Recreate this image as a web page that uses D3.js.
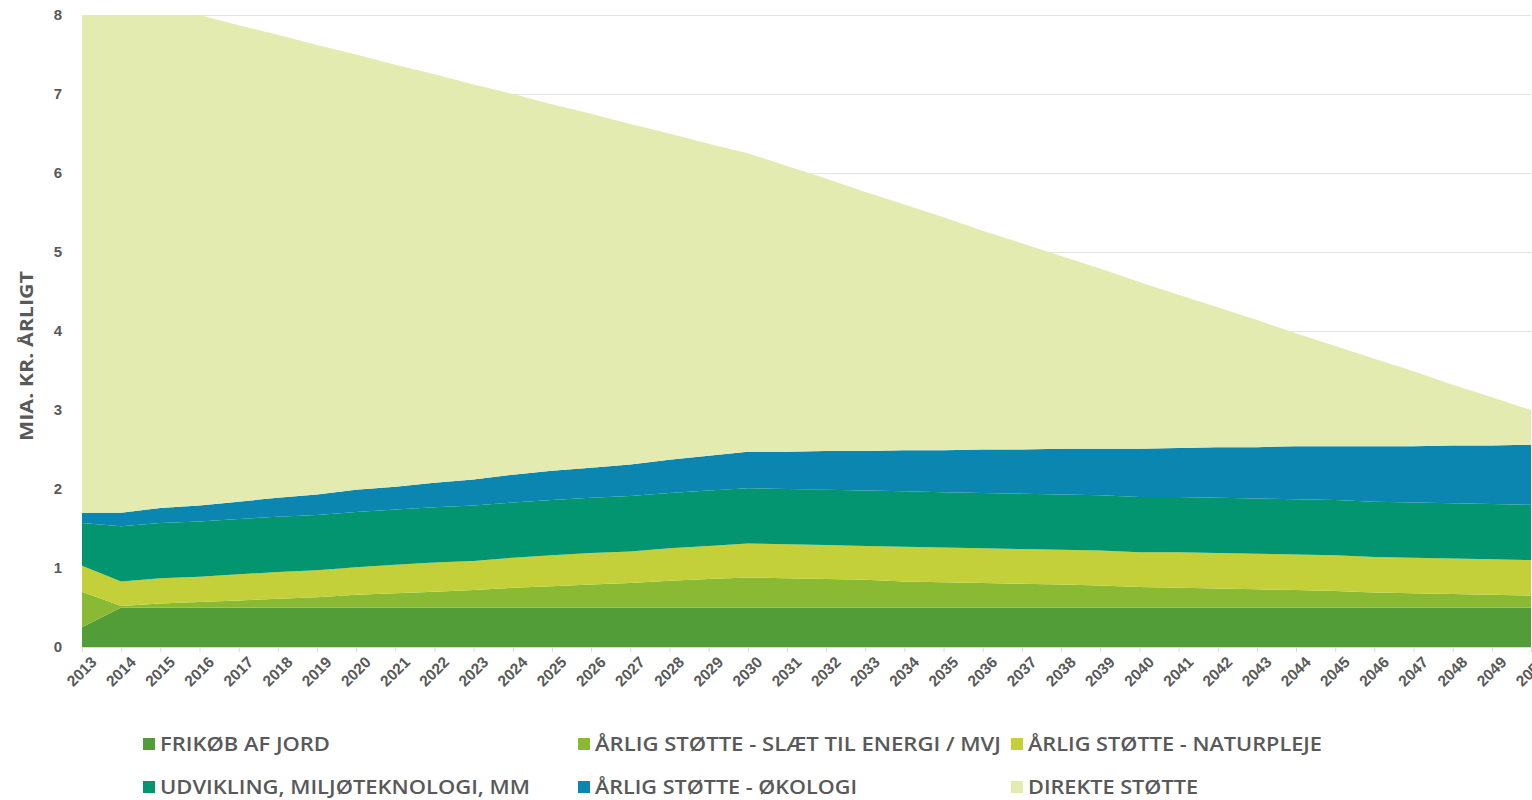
<!DOCTYPE html>
<html>
<head>
<meta charset="utf-8">
<script src="https://cdn.jsdelivr.net/npm/d3@7"></script>
<style>
  body { margin: 0; background: #fff; }
  svg { display: block; font-family: "Open Sans", "Noto Sans", sans-serif; }
</style>
</head>
<body>
<div id="chart"></div>
<script>
let years = d3.range(2013, 2051)

// mia. kr. pr. år
let frikob = [0.25, 0.5, 0.5, 0.5, 0.5, 0.5, 0.5, 0.5, 0.5, 0.5, 0.5, 0.5, 0.5, 0.5, 0.5, 0.5, 0.5, 0.5,
  0.5, 0.5, 0.5, 0.5, 0.5, 0.5, 0.5, 0.5, 0.5, 0.5, 0.5, 0.5, 0.5, 0.5, 0.5, 0.5, 0.5, 0.5, 0.5, 0.5]
let slaet = [0.45, 0.02, 0.05, 0.07, 0.09, 0.11, 0.13, 0.16, 0.18, 0.2, 0.22, 0.25, 0.27, 0.29, 0.31, 0.34, 0.36, 0.38,
  0.37, 0.36, 0.35, 0.33, 0.32, 0.31, 0.3, 0.29, 0.28, 0.26, 0.25, 0.24, 0.23, 0.22, 0.21, 0.19, 0.18, 0.17, 0.16, 0.15]
let naturpleje = [0.33, 0.31, 0.32, 0.32, 0.33, 0.34, 0.34, 0.35, 0.36, 0.37, 0.37, 0.38, 0.39, 0.4, 0.4, 0.41, 0.42, 0.43,
  0.43, 0.43, 0.43, 0.44, 0.44, 0.44, 0.44, 0.44, 0.44, 0.44, 0.45, 0.45, 0.45, 0.45, 0.45, 0.45, 0.45, 0.45, 0.45, 0.45]
let udvikling = [0.54, 0.7, 0.7, 0.7, 0.7, 0.7, 0.7, 0.7, 0.7, 0.7, 0.7, 0.7, 0.7, 0.7, 0.7, 0.7, 0.7, 0.7,
  0.7, 0.7, 0.7, 0.7, 0.7, 0.7, 0.7, 0.7, 0.7, 0.7, 0.7, 0.7, 0.7, 0.7, 0.7, 0.7, 0.7, 0.7, 0.7, 0.7]
let okologi = [0.13, 0.17, 0.19, 0.2, 0.22, 0.24, 0.26, 0.28, 0.29, 0.31, 0.33, 0.35, 0.37, 0.38, 0.4, 0.42, 0.44, 0.46,
  0.47, 0.49, 0.5, 0.52, 0.53, 0.55, 0.56, 0.58, 0.59, 0.61, 0.62, 0.64, 0.65, 0.67, 0.68, 0.7, 0.71, 0.73, 0.74, 0.76]
let direkte = [6.3, 6.3, 6.24, 6.21, 6.03, 5.86, 5.69, 5.51, 5.34, 5.17, 5.0, 4.82, 4.64, 4.48, 4.31, 4.13, 3.95, 3.78,
  3.62, 3.45, 3.28, 3.11, 2.95, 2.77, 2.61, 2.44, 2.28, 2.11, 1.94, 1.77, 1.61, 1.43, 1.27, 1.11, 0.95, 0.77, 0.61, 0.44]

let seriesNames = ['FRIKØB AF JORD', 'ÅRLIG STØTTE - SLÆT TIL ENERGI / MVJ', 'ÅRLIG STØTTE - NATURPLEJE',
  'UDVIKLING, MILJØTEKNOLOGI, MM', 'ÅRLIG STØTTE - ØKOLOGI', 'DIREKTE STØTTE']
let seriesValues = [frikob, slaet, naturpleje, udvikling, okologi, direkte]
let colors = ['#529d37', '#8aba34', '#c4d03a', '#029570', '#0a86b1', '#e4ebb0']
let yTicks = [0, 1, 2, 3, 4, 5, 6, 7, 8]

function main () {
  let width = 1532
  let height = 800
  let m = { left: 82, right: 1, top: 15, bottom: 153 }

  let svg = d3.select('#chart').append('svg').attr('width', width).attr('height', height)

  let x = d3.scaleLinear().domain([2013, 2050]).range([m.left, width - m.right])
  let y = d3.scaleLinear().domain([0, 8]).range([height - m.bottom, m.top])

  // gitterlinjer
  svg.append('g')
    .attr('transform', `translate(${m.left},0)`)
    .call(d3.axisLeft(y).tickValues(yTicks).tickSize(-(width - m.left - m.right)).tickFormat(''))
    .call((g) => g.select('.domain').remove())
    .selectAll('line').attr('stroke', '#e3e3e3')

  let table = years.map((yr, i) => {
    let row = { year: yr }
    seriesNames.forEach((n, k) => { row[n] = seriesValues[k][i] })
    return row
  })
  let stack = d3.stack().keys(seriesNames)(table)

  let area = d3.area()
    .x((d) => x(d.data.year))
    .y0((d) => y(d[0]))
    .y1((d) => y(d[1]))

  svg.append('g').selectAll('path').data(stack).join('path')
    .attr('d', area)
    .attr('fill', (d, i) => colors[i])

  // x-akse
  let xAxis = svg.append('g')
    .attr('transform', `translate(0,${height - m.bottom})`)
    .call(d3.axisBottom(x).tickValues(years).tickFormat(d3.format('d')).tickSize(5).tickPadding(4))
  xAxis.select('.domain').attr('stroke', '#d9d9d9')
  xAxis.selectAll('.tick line').attr('stroke', '#d9d9d9')
  xAxis.selectAll('text')
    .attr('fill', '#595959')
    .attr('font-size', 15.5)
    .attr('font-weight', 600)
    .attr('text-anchor', 'end')
    .attr('dy', '0.35em')
    .attr('transform', 'translate(5,6) rotate(-45)')

  // y-akse
  let yAxis = svg.append('g')
    .attr('transform', `translate(${m.left},0)`)
    .call(d3.axisLeft(y).tickValues(yTicks).tickSize(0).tickPadding(20))
  yAxis.select('.domain').remove()
  yAxis.selectAll('text').attr('fill', '#595959').attr('font-size', 15).attr('font-weight', 700)

  svg.append('text')
    .attr('transform', `translate(33,356) rotate(-90)`)
    .attr('text-anchor', 'middle')
    .attr('fill', '#595959')
    .attr('font-size', 18)
    .attr('font-weight', 700)
    .attr('textLength', 170)
    .attr('lengthAdjust', 'spacingAndGlyphs')
    .text('MIA. KR. ÅRLIGT')

  // legend
  let legX = [143, 578, 1011]
  let legY = [744, 787]
  let legW = [170, 406, 294, 370, 262, 170]
  let leg = svg.append('g')
  seriesNames.forEach((name, i) => {
    let lx = legX[i % 3]
    let ly = legY[Math.floor(i / 3)]
    leg.append('rect').attr('x', lx).attr('y', ly - 6).attr('width', 12).attr('height', 12).attr('fill', colors[i])
    leg.append('text')
      .attr('x', lx + 17).attr('y', ly)
      .attr('dy', '0.36em')
      .attr('fill', '#595959')
      .attr('font-size', 19)
      .attr('font-weight', 600)
      .attr('textLength', legW[i])
      .attr('lengthAdjust', 'spacingAndGlyphs')
      .text(name)
  })
}

main()
</script>
</body>
</html>
